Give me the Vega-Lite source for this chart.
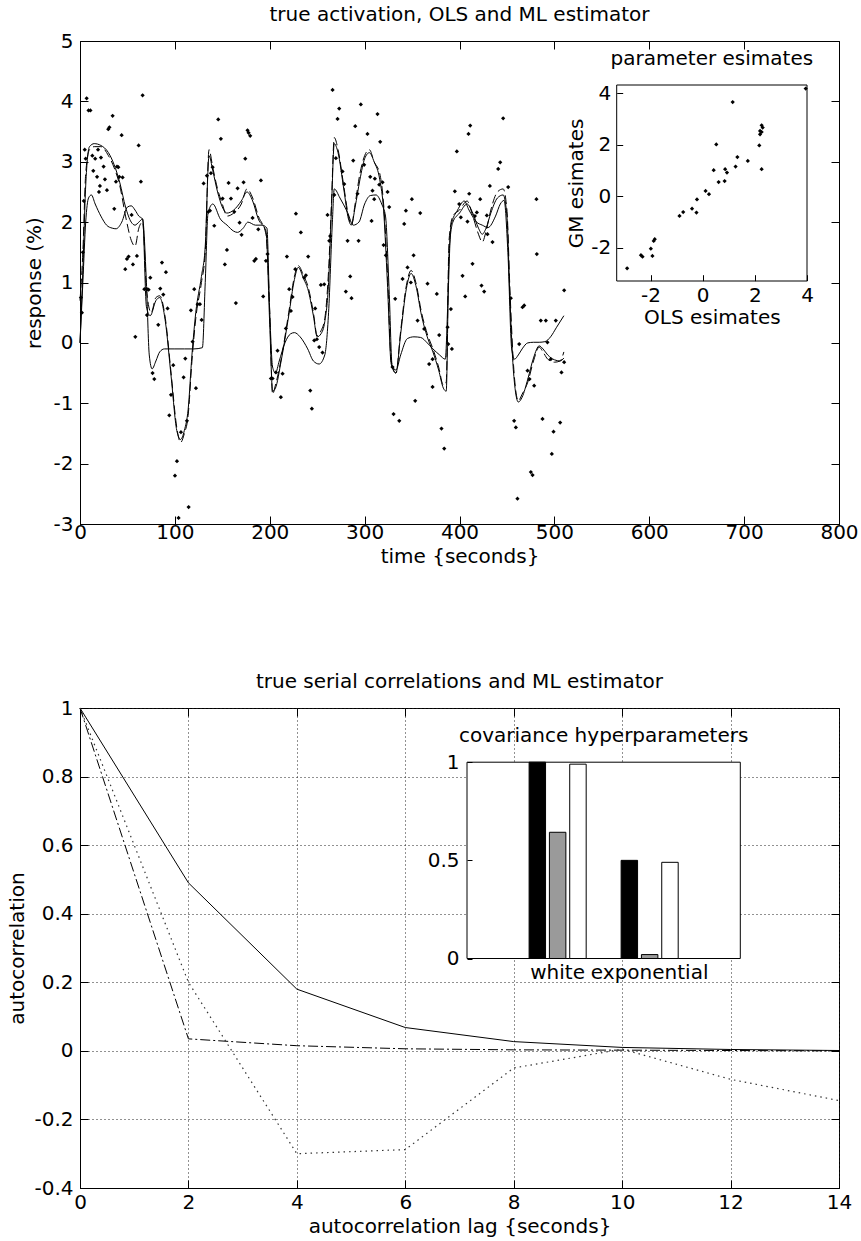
{
  "$schema": "https://vega.github.io/schema/vega-lite/v6.json",
  "padding": {"left": 7, "top": 4, "right": 4, "bottom": 2},
  "spacing": 104,
  "config": {
    "font": "DejaVu Sans",
    "view": {"stroke": "black", "strokeWidth": 1},
    "title": {"fontSize": 20, "fontWeight": "normal", "color": "black", "font": "DejaVu Sans", "offset": 6},
    "axis": {"labelFontSize": 20, "titleFontSize": 20, "labelColor": "black", "titleColor": "black", "titleFontWeight": "normal", "labelFont": "DejaVu Sans", "titleFont": "DejaVu Sans", "domainColor": "black", "tickColor": "black", "grid": false, "tickSize": -8, "labelPadding": 15, "labelFlush": false, "labelOverlap": false, "titlePadding": 6}
  },
  "datasets": {
    "L1": [
      {"t":0,"v":0.7,"s":"ML"},{"t":3,"v":1.5,"s":"ML"},{"t":6,"v":2.8,"s":"ML"},{"t":10,"v":3.2,"s":"ML"},{"t":15,"v":3.25,"s":"ML"},{"t":22,"v":3.25,"s":"ML"},{"t":30,"v":3.1,"s":"ML"},{"t":36,"v":2.9,"s":"ML"},{"t":42,"v":2.6,"s":"ML"},{"t":48,"v":2.1,"s":"ML"},{"t":54,"v":1.7,"s":"ML"},{"t":58,"v":1.6,"s":"ML"},{"t":62,"v":1.9,"s":"ML"},{"t":66,"v":2.0,"s":"ML"},{"t":70,"v":0.9,"s":"ML"},{"t":75,"v":0.5,"s":"ML"},{"t":80,"v":0.75,"s":"ML"},{"t":84,"v":0.78,"s":"ML"},{"t":90,"v":0.4,"s":"ML"},{"t":96,"v":-0.5,"s":"ML"},{"t":102,"v":-1.4,"s":"ML"},{"t":106,"v":-1.65,"s":"ML"},{"t":110,"v":-1.5,"s":"ML"},{"t":114,"v":-1.2,"s":"ML"},{"t":118,"v":-0.3,"s":"ML"},{"t":122,"v":0.4,"s":"ML"},{"t":128,"v":1.0,"s":"ML"},{"t":132,"v":1.5,"s":"ML"},{"t":136,"v":3.2,"s":"ML"},{"t":140,"v":2.9,"s":"ML"},{"t":145,"v":2.55,"s":"ML"},{"t":150,"v":2.3,"s":"ML"},{"t":155,"v":2.1,"s":"ML"},{"t":162,"v":2.15,"s":"ML"},{"t":170,"v":2.3,"s":"ML"},{"t":176,"v":2.55,"s":"ML"},{"t":182,"v":2.4,"s":"ML"},{"t":188,"v":2.1,"s":"ML"},{"t":196,"v":1.8,"s":"ML"},{"t":200,"v":0.5,"s":"ML"},{"t":203,"v":-0.85,"s":"ML"},{"t":206,"v":-0.7,"s":"ML"},{"t":212,"v":-0.27,"s":"ML"},{"t":220,"v":0.5,"s":"ML"},{"t":226,"v":1.1,"s":"ML"},{"t":230,"v":1.28,"s":"ML"},{"t":236,"v":1.1,"s":"ML"},{"t":240,"v":0.95,"s":"ML"},{"t":246,"v":0.5,"s":"ML"},{"t":250,"v":0.12,"s":"ML"},{"t":254,"v":0.2,"s":"ML"},{"t":258,"v":0.4,"s":"ML"},{"t":262,"v":1.2,"s":"ML"},{"t":265,"v":2.3,"s":"ML"},{"t":268,"v":3.4,"s":"ML"},{"t":272,"v":3.2,"s":"ML"},{"t":278,"v":2.6,"s":"ML"},{"t":283,"v":2.1,"s":"ML"},{"t":286,"v":1.95,"s":"ML"},{"t":290,"v":2.3,"s":"ML"},{"t":295,"v":2.8,"s":"ML"},{"t":300,"v":3.1,"s":"ML"},{"t":305,"v":3.2,"s":"ML"},{"t":310,"v":3.0,"s":"ML"},{"t":316,"v":2.8,"s":"ML"},{"t":320,"v":2.3,"s":"ML"},{"t":324,"v":1.2,"s":"ML"},{"t":328,"v":-0.3,"s":"ML"},{"t":333,"v":-0.5,"s":"ML"},{"t":338,"v":0.2,"s":"ML"},{"t":344,"v":0.95,"s":"ML"},{"t":349,"v":1.2,"s":"ML"},{"t":354,"v":1.0,"s":"ML"},{"t":360,"v":0.5,"s":"ML"},{"t":366,"v":0.15,"s":"ML"},{"t":372,"v":-0.1,"s":"ML"},{"t":378,"v":-0.4,"s":"ML"},{"t":383,"v":-0.7,"s":"ML"},{"t":386,"v":-0.65,"s":"ML"},{"t":389,"v":1.7,"s":"ML"},{"t":393,"v":2.1,"s":"ML"},{"t":400,"v":2.2,"s":"ML"},{"t":408,"v":2.35,"s":"ML"},{"t":414,"v":2.1,"s":"ML"},{"t":420,"v":1.8,"s":"ML"},{"t":424,"v":1.67,"s":"ML"},{"t":428,"v":1.85,"s":"ML"},{"t":433,"v":2.2,"s":"ML"},{"t":440,"v":2.5,"s":"ML"},{"t":446,"v":2.55,"s":"ML"},{"t":450,"v":2.2,"s":"ML"},{"t":453,"v":0.95,"s":"ML"},{"t":457,"v":-0.38,"s":"ML"},{"t":462,"v":-0.96,"s":"ML"},{"t":466,"v":-0.85,"s":"ML"},{"t":472,"v":-0.65,"s":"ML"},{"t":478,"v":-0.3,"s":"ML"},{"t":484,"v":-0.07,"s":"ML"},{"t":488,"v":-0.15,"s":"ML"},{"t":493,"v":-0.27,"s":"ML"},{"t":500,"v":-0.32,"s":"ML"},{"t":506,"v":-0.3,"s":"ML"},{"t":510,"v":-0.15,"s":"ML"},
      {"t":0,"v":0.0,"s":"true"},{"t":3,"v":1.2,"s":"true"},{"t":6,"v":2.6,"s":"true"},{"t":10,"v":3.25,"s":"true"},{"t":15,"v":3.3,"s":"true"},{"t":22,"v":3.27,"s":"true"},{"t":30,"v":3.15,"s":"true"},{"t":36,"v":2.95,"s":"true"},{"t":42,"v":2.65,"s":"true"},{"t":48,"v":2.25,"s":"true"},{"t":54,"v":2.0,"s":"true"},{"t":58,"v":1.95,"s":"true"},{"t":62,"v":2.0,"s":"true"},{"t":66,"v":2.05,"s":"true"},{"t":70,"v":0.6,"s":"true"},{"t":74,"v":0.45,"s":"true"},{"t":80,"v":0.7,"s":"true"},{"t":84,"v":0.75,"s":"true"},{"t":90,"v":0.35,"s":"true"},{"t":96,"v":-0.55,"s":"true"},{"t":102,"v":-1.45,"s":"true"},{"t":106,"v":-1.6,"s":"true"},{"t":110,"v":-1.45,"s":"true"},{"t":114,"v":-1.1,"s":"true"},{"t":118,"v":-0.2,"s":"true"},{"t":122,"v":0.5,"s":"true"},{"t":128,"v":1.1,"s":"true"},{"t":132,"v":1.6,"s":"true"},{"t":136,"v":3.1,"s":"true"},{"t":140,"v":2.85,"s":"true"},{"t":145,"v":2.5,"s":"true"},{"t":150,"v":2.25,"s":"true"},{"t":155,"v":2.15,"s":"true"},{"t":162,"v":2.2,"s":"true"},{"t":170,"v":2.35,"s":"true"},{"t":176,"v":2.5,"s":"true"},{"t":182,"v":2.35,"s":"true"},{"t":188,"v":2.05,"s":"true"},{"t":196,"v":1.85,"s":"true"},{"t":200,"v":0.3,"s":"true"},{"t":203,"v":-0.8,"s":"true"},{"t":206,"v":-0.75,"s":"true"},{"t":212,"v":-0.3,"s":"true"},{"t":220,"v":0.45,"s":"true"},{"t":226,"v":1.05,"s":"true"},{"t":230,"v":1.25,"s":"true"},{"t":236,"v":1.05,"s":"true"},{"t":240,"v":0.9,"s":"true"},{"t":246,"v":0.45,"s":"true"},{"t":250,"v":0.1,"s":"true"},{"t":254,"v":0.15,"s":"true"},{"t":258,"v":0.35,"s":"true"},{"t":262,"v":1.0,"s":"true"},{"t":265,"v":2.2,"s":"true"},{"t":268,"v":3.3,"s":"true"},{"t":272,"v":3.15,"s":"true"},{"t":278,"v":2.55,"s":"true"},{"t":283,"v":2.05,"s":"true"},{"t":286,"v":1.95,"s":"true"},{"t":290,"v":2.25,"s":"true"},{"t":295,"v":2.7,"s":"true"},{"t":300,"v":3.05,"s":"true"},{"t":305,"v":3.15,"s":"true"},{"t":310,"v":3.0,"s":"true"},{"t":316,"v":2.7,"s":"true"},{"t":320,"v":2.2,"s":"true"},{"t":324,"v":1.0,"s":"true"},{"t":328,"v":-0.35,"s":"true"},{"t":333,"v":-0.5,"s":"true"},{"t":338,"v":0.15,"s":"true"},{"t":344,"v":0.9,"s":"true"},{"t":349,"v":1.15,"s":"true"},{"t":354,"v":0.95,"s":"true"},{"t":360,"v":0.45,"s":"true"},{"t":366,"v":0.1,"s":"true"},{"t":372,"v":-0.15,"s":"true"},{"t":378,"v":-0.45,"s":"true"},{"t":383,"v":-0.75,"s":"true"},{"t":386,"v":-0.8,"s":"true"},{"t":389,"v":1.5,"s":"true"},{"t":393,"v":2.0,"s":"true"},{"t":400,"v":2.15,"s":"true"},{"t":408,"v":2.3,"s":"true"},{"t":414,"v":2.15,"s":"true"},{"t":420,"v":1.9,"s":"true"},{"t":424,"v":1.8,"s":"true"},{"t":428,"v":1.9,"s":"true"},{"t":433,"v":2.15,"s":"true"},{"t":440,"v":2.4,"s":"true"},{"t":446,"v":2.45,"s":"true"},{"t":450,"v":2.1,"s":"true"},{"t":453,"v":0.8,"s":"true"},{"t":457,"v":-0.5,"s":"true"},{"t":462,"v":-0.98,"s":"true"},{"t":466,"v":-0.9,"s":"true"},{"t":472,"v":-0.6,"s":"true"},{"t":478,"v":-0.25,"s":"true"},{"t":484,"v":-0.05,"s":"true"},{"t":488,"v":-0.1,"s":"true"},{"t":493,"v":-0.2,"s":"true"},{"t":500,"v":-0.28,"s":"true"},{"t":506,"v":-0.3,"s":"true"},{"t":510,"v":-0.25,"s":"true"},
      {"t":0,"v":0.0,"s":"OLS"},{"t":3,"v":1.0,"s":"OLS"},{"t":6,"v":2.0,"s":"OLS"},{"t":9,"v":2.4,"s":"OLS"},{"t":12,"v":2.45,"s":"OLS"},{"t":16,"v":2.3,"s":"OLS"},{"t":22,"v":2.1,"s":"OLS"},{"t":28,"v":1.95,"s":"OLS"},{"t":34,"v":1.9,"s":"OLS"},{"t":38,"v":1.89,"s":"OLS"},{"t":44,"v":2.0,"s":"OLS"},{"t":50,"v":2.25,"s":"OLS"},{"t":54,"v":2.27,"s":"OLS"},{"t":58,"v":2.2,"s":"OLS"},{"t":62,"v":2.1,"s":"OLS"},{"t":66,"v":2.05,"s":"OLS"},{"t":70,"v":1.0,"s":"OLS"},{"t":73,"v":-0.2,"s":"OLS"},{"t":76,"v":-0.43,"s":"OLS"},{"t":80,"v":-0.3,"s":"OLS"},{"t":84,"v":-0.15,"s":"OLS"},{"t":89,"v":-0.1,"s":"OLS"},{"t":100,"v":-0.1,"s":"OLS"},{"t":110,"v":-0.1,"s":"OLS"},{"t":120,"v":-0.1,"s":"OLS"},{"t":129,"v":-0.08,"s":"OLS"},{"t":132,"v":1.0,"s":"OLS"},{"t":135,"v":2.16,"s":"OLS"},{"t":140,"v":2.3,"s":"OLS"},{"t":148,"v":2.05,"s":"OLS"},{"t":155,"v":1.95,"s":"OLS"},{"t":162,"v":1.85,"s":"OLS"},{"t":166,"v":1.83,"s":"OLS"},{"t":172,"v":1.9,"s":"OLS"},{"t":177,"v":2.0,"s":"OLS"},{"t":185,"v":1.95,"s":"OLS"},{"t":192,"v":1.95,"s":"OLS"},{"t":197,"v":1.9,"s":"OLS"},{"t":200,"v":0.5,"s":"OLS"},{"t":203,"v":-0.4,"s":"OLS"},{"t":206,"v":-0.5,"s":"OLS"},{"t":210,"v":-0.3,"s":"OLS"},{"t":216,"v":0.0,"s":"OLS"},{"t":222,"v":0.15,"s":"OLS"},{"t":226,"v":0.17,"s":"OLS"},{"t":232,"v":0.1,"s":"OLS"},{"t":240,"v":-0.1,"s":"OLS"},{"t":246,"v":-0.3,"s":"OLS"},{"t":252,"v":-0.35,"s":"OLS"},{"t":258,"v":-0.2,"s":"OLS"},{"t":262,"v":0.5,"s":"OLS"},{"t":266,"v":2.0,"s":"OLS"},{"t":268,"v":2.55,"s":"OLS"},{"t":274,"v":2.4,"s":"OLS"},{"t":282,"v":2.16,"s":"OLS"},{"t":288,"v":1.95,"s":"OLS"},{"t":294,"v":2.0,"s":"OLS"},{"t":300,"v":2.3,"s":"OLS"},{"t":306,"v":2.44,"s":"OLS"},{"t":312,"v":2.45,"s":"OLS"},{"t":318,"v":2.3,"s":"OLS"},{"t":322,"v":2.1,"s":"OLS"},{"t":326,"v":0.8,"s":"OLS"},{"t":329,"v":-0.38,"s":"OLS"},{"t":333,"v":-0.45,"s":"OLS"},{"t":338,"v":-0.2,"s":"OLS"},{"t":345,"v":0.07,"s":"OLS"},{"t":352,"v":0.1,"s":"OLS"},{"t":359,"v":0.09,"s":"OLS"},{"t":366,"v":0.0,"s":"OLS"},{"t":372,"v":-0.1,"s":"OLS"},{"t":379,"v":-0.2,"s":"OLS"},{"t":385,"v":-0.27,"s":"OLS"},{"t":388,"v":0.8,"s":"OLS"},{"t":391,"v":1.94,"s":"OLS"},{"t":398,"v":2.2,"s":"OLS"},{"t":405,"v":2.35,"s":"OLS"},{"t":410,"v":2.2,"s":"OLS"},{"t":418,"v":2.0,"s":"OLS"},{"t":424,"v":1.95,"s":"OLS"},{"t":430,"v":1.91,"s":"OLS"},{"t":438,"v":2.1,"s":"OLS"},{"t":443,"v":2.3,"s":"OLS"},{"t":447,"v":2.36,"s":"OLS"},{"t":451,"v":1.5,"s":"OLS"},{"t":455,"v":-0.1,"s":"OLS"},{"t":458,"v":-0.27,"s":"OLS"},{"t":462,"v":-0.2,"s":"OLS"},{"t":466,"v":-0.1,"s":"OLS"},{"t":472,"v":0.0,"s":"OLS"},{"t":478,"v":0.01,"s":"OLS"},{"t":484,"v":0.01,"s":"OLS"},{"t":490,"v":0.02,"s":"OLS"},{"t":496,"v":0.1,"s":"OLS"},{"t":502,"v":0.25,"s":"OLS"},{"t":510,"v":0.45,"s":"OLS"}
    ],
    "P1": [
      {"t":1,"v":0.75},{"t":2,"v":0.5},{"t":3,"v":1.5},{"t":4,"v":2.35},{"t":5,"v":3.2},{"t":6,"v":3.05},{"t":7,"v":4.05},{"t":9,"v":3.85},{"t":11,"v":3.85},{"t":13,"v":3.1},{"t":14,"v":2.85},{"t":16,"v":3.05},{"t":18,"v":2.75},{"t":19,"v":3.2},{"t":20,"v":2.5},{"t":21,"v":2.6},
      {"t":66,"v":4.1},{"t":34.4,"v":3.76},{"t":31,"v":3.57},{"t":29.8,"v":3.54},{"t":43.9,"v":3.44},{"t":61.8,"v":3.27},{"t":22.1,"v":3.07},{"t":24.9,"v":2.92},{"t":39,"v":2.92},{"t":40.4,"v":2.91},{"t":26.3,"v":2.71},{"t":28.4,"v":2.53},{"t":41.4,"v":2.75},{"t":44.9,"v":2.74},{"t":37.9,"v":2.67},{"t":64.2,"v":2.67},{"t":36.1,"v":2.22},{"t":54.4,"v":2.12},{"t":51.2,"v":1.43},{"t":49.5,"v":1.39},{"t":60,"v":1.44},{"t":55.8,"v":1.3},{"t":47.7,"v":1.22},{"t":58.3,"v":0.1},{"t":67.8,"v":0.89},{"t":70.6,"v":0.89},{"t":72.3,"v":0.88},{"t":74.1,"v":1.08},{"t":70.6,"v":0.46},{"t":86.4,"v":1.33},{"t":90.6,"v":1.17},{"t":84.6,"v":0.9},{"t":87.8,"v":0.8},{"t":82.5,"v":0.3},{"t":92.3,"v":0.57},{"t":76.5,"v":-0.5},{"t":78.3,"v":-0.6},{"t":98.3,"v":-0.37},{"t":109.2,"v":-0.57},{"t":111,"v":-0.26},{"t":95.9,"v":-0.86},{"t":94.1,"v":-1.2},{"t":122.2,"v":-0.75},{"t":106.4,"v":-1.48},{"t":112.7,"v":-1.29},{"t":102.2,"v":-1.96},{"t":100.1,"v":-2.2},{"t":114.5,"v":-2.72},{"t":103.9,"v":-2.9},{"t":116.9,"v":0.54},{"t":120.4,"v":0.89},{"t":124,"v":0.64},{"t":126.4,"v":0.64},{"t":128.2,"v":0.38},{"t":118.7,"v":0.02},{"t":130.3,"v":2.64},{"t":133.8,"v":2.77},{"t":138,"v":2.81},{"t":139.8,"v":2.91},{"t":145.7,"v":3.7},{"t":148.5,"v":3.38},{"t":141.5,"v":1.94},{"t":135.2,"v":2.17},{"t":137,"v":2.19},{"t":154.9,"v":1.54},{"t":152.7,"v":1.3},{"t":150.3,"v":2.39},{"t":156.6,"v":2.65},{"t":159.1,"v":2.39},{"t":162.6,"v":2.17},{"t":166.1,"v":2.56},{"t":168.2,"v":1.99},{"t":170.3,"v":1.79},{"t":172.4,"v":2.66},{"t":174.2,"v":3.05},{"t":176.6,"v":3.52},{"t":177.7,"v":3.48},{"t":179.4,"v":3.43},{"t":181.9,"v":2.07},{"t":183.7,"v":1.36},{"t":185.4,"v":1.39},{"t":190.7,"v":2.69},{"t":187.9,"v":1.88},{"t":193.1,"v":0.77},{"t":164.3,"v":0.66},{"t":196,"v":1.36},{"t":197.7,"v":1.47},{"t":201.2,"v":-0.59},{"t":203,"v":-0.59},{"t":206.5,"v":-0.49},{"t":208.2,"v":-0.13},{"t":211.7,"v":-0.9},{"t":213.5,"v":-0.51},{"t":217,"v":0.24},{"t":220.5,"v":0.89},{"t":224,"v":0.76},{"t":222.3,"v":0.53},{"t":218.1,"v":1.43},{"t":226.9,"v":1.22},{"t":227.6,"v":2.14},{"t":232.8,"v":1.83},{"t":236.3,"v":1.08},{"t":238.1,"v":1.12},{"t":240.5,"v":1.43},{"t":242.7,"v":-0.79},{"t":244.4,"v":-1.09},{"t":247.9,"v":0.57},{"t":246.9,"v":0.04},{"t":249.7,"v":0.06},{"t":252.1,"v":-0.07},{"t":255.6,"v":-0.16},{"t":253.9,"v":0.96},{"t":257.4,"v":0.97},{"t":262.7,"v":1.69},{"t":263.7,"v":1.77},{"t":260.9,"v":2.12},{"t":266.2,"v":4.19},{"t":273.2,"v":3.88},{"t":271.5,"v":3.71},{"t":269.7,"v":3.06},{"t":276.7,"v":2.84},{"t":278.5,"v":2.63},{"t":268,"v":2.45},{"t":282,"v":1.69},{"t":284.8,"v":1.1},{"t":280.2,"v":0.85},{"t":286.2,"v":0.74},{"t":288,"v":3.02},{"t":290.1,"v":3.59},{"t":292.5,"v":2.47},{"t":293.6,"v":1.69},{"t":296,"v":3.95},{"t":299.5,"v":2.95},{"t":303,"v":3.46},{"t":305.9,"v":2.75},{"t":307.3,"v":2.02},{"t":308.3,"v":2.52},{"t":310.1,"v":2.38},{"t":313.6,"v":3.79},{"t":315.4,"v":2.62},
      {"t":316.4,"v":3.33},{"t":310.8,"v":2.72},{"t":318.9,"v":2.66},{"t":324.2,"v":2.5},{"t":325.9,"v":2.25},{"t":320,"v":1.62},{"t":322.4,"v":1.45},{"t":329.4,"v":-0.4},{"t":332.2,"v":0.73},{"t":330.5,"v":-1.18},{"t":336.5,"v":-1.29},{"t":340,"v":1.06},{"t":345.2,"v":1.25},{"t":341.7,"v":1.97},{"t":348.7,"v":1.0},{"t":343.5,"v":2.19},{"t":349.8,"v":2.38},{"t":351.6,"v":1.45},{"t":358.6,"v":2.15},{"t":353.3,"v":-0.96},{"t":355.8,"v":0.37},{"t":362.8,"v":0.23},{"t":366.3,"v":0.98},{"t":368,"v":-0.35},{"t":371.6,"v":-0.27},{"t":371.6,"v":-0.73},{"t":376.1,"v":0.81},{"t":378.6,"v":0.13},{"t":381,"v":-1.42},{"t":383.9,"v":-1.75},{"t":387.4,"v":0.26},{"t":388.1,"v":-0.02},{"t":390.9,"v":0.56},{"t":392,"v":-0.1},{"t":395.1,"v":2.51},{"t":397.2,"v":3.17},{"t":399.7,"v":2.3},{"t":401.4,"v":2.08},{"t":403.2,"v":1.11},{"t":406,"v":0.77},{"t":408.4,"v":2.01},{"t":409.5,"v":3.46},{"t":411.3,"v":3.6},{"t":410.2,"v":2.47},{"t":413.7,"v":1.31},{"t":416.2,"v":2.1},{"t":418.3,"v":2.16},{"t":421.8,"v":2.38},{"t":423.2,"v":0.95},{"t":426,"v":0.85},{"t":428.8,"v":2.11},{"t":429.5,"v":1.8},{"t":432,"v":2.6},{"t":434.8,"v":1.67},{"t":440.8,"v":2.88},{"t":442.9,"v":2.99},{"t":446,"v":3.72},{"t":451.3,"v":2.58},{"t":454.1,"v":0.74},{"t":457.6,"v":-1.29},{"t":459.4,"v":-1.4},{"t":461.1,"v":-2.58},{"t":462.9,"v":-0.02},{"t":466.4,"v":0.59},{"t":468.2,"v":0.62},{"t":471.7,"v":-0.46},{"t":473.8,"v":-0.6},{"t":475.2,"v":-2.14},{"t":477,"v":-2.19},{"t":478.7,"v":-0.71},{"t":481.1,"v":2.38},{"t":481.5,"v":1.47},{"t":487.5,"v":-1.26},{"t":485.7,"v":0.37},{"t":491,"v":0.37},{"t":492.7,"v":0.01},{"t":496.2,"v":-0.27},{"t":497.3,"v":-1.84},{"t":499.1,"v":-1.47},{"t":501.5,"v":0.37},{"t":506.1,"v":-1.32},{"t":507.5,"v":-0.49},{"t":510.3,"v":0.87},{"t":510.3,"v":-0.32}
    ],
    "I1": [
      {"ols":1.15,"gm":3.65},{"ols":2.26,"gm":2.75},{"ols":2.2,"gm":2.53},{"ols":2.2,"gm":2.4},{"ols":2.26,"gm":2.49},{"ols":2.3,"gm":2.66},{"ols":2.17,"gm":1.97},{"ols":2.26,"gm":1.05},{"ols":0.52,"gm":2.01},{"ols":1.33,"gm":1.52},{"ols":1.73,"gm":1.37},{"ols":1.26,"gm":1.15},{"ols":0.42,"gm":1.01},{"ols":0.86,"gm":1.05},{"ols":0.93,"gm":0.92},{"ols":0.61,"gm":0.55},{"ols":0.84,"gm":0.59},{"ols":0.11,"gm":0.21},{"ols":0.24,"gm":0.08},{"ols":-0.22,"gm":-0.12},{"ols":-0.41,"gm":-0.48},{"ols":-0.24,"gm":-0.63},{"ols":-0.89,"gm":-0.76},{"ols":-0.75,"gm":-0.61},{"ols":-1.84,"gm":-1.66},{"ols":-1.88,"gm":-1.73},{"ols":-1.99,"gm":-2.03},{"ols":-1.93,"gm":-2.31},{"ols":-2.37,"gm":-2.28},{"ols":-2.31,"gm":-2.34},{"ols":-2.9,"gm":-2.79},{"ols":3.95,"gm":4.17}
    ],
    "L2": [
      {"lag":0,"r":1,"s":"true"},{"lag":2,"r":0.49,"s":"true"},{"lag":4,"r":0.18,"s":"true"},{"lag":6,"r":0.068,"s":"true"},{"lag":8,"r":0.027,"s":"true"},{"lag":10,"r":0.01,"s":"true"},{"lag":12,"r":0.004,"s":"true"},{"lag":14,"r":0.001,"s":"true"},
      {"lag":0,"r":1,"s":"ML"},{"lag":2,"r":0.035,"s":"ML"},{"lag":4,"r":0.015,"s":"ML"},{"lag":6,"r":0.006,"s":"ML"},{"lag":8,"r":0.003,"s":"ML"},{"lag":10,"r":0.002,"s":"ML"},{"lag":12,"r":0.001,"s":"ML"},{"lag":14,"r":0,"s":"ML"},
      {"lag":0,"r":1,"s":"OLS"},{"lag":2,"r":0.2,"s":"OLS"},{"lag":4,"r":-0.3,"s":"OLS"},{"lag":6,"r":-0.288,"s":"OLS"},{"lag":8,"r":-0.05,"s":"OLS"},{"lag":10,"r":0.005,"s":"OLS"},{"lag":12,"r":-0.083,"s":"OLS"},{"lag":14,"r":-0.145,"s":"OLS"}
    ],
    "B2": [
      {"g":"white","s":"a","v":1.0},{"g":"white","s":"b","v":0.643},{"g":"white","s":"c","v":0.99},
      {"g":"exponential","s":"a","v":0.5},{"g":"exponential","s":"b","v":0.02},{"g":"exponential","s":"c","v":0.49}
    ]
  },
  "vconcat": [
    {
      "width": 759,
      "height": 483,
      "title": {"text": "true activation, OLS and ML estimator"},
      "layer": [
        {
          "data": {"name": "L1"},
          "encoding": {
            "x": {"field": "t", "type": "quantitative", "scale": {"domain": [0, 800], "nice": false, "zero": false},
                  "axis": {"orient": "bottom", "title": "time {seconds}", "values": [0,100,200,300,400,500,600,700,800], "format": "d", "labelPadding": 6, "titlePadding": 4}},
            "y": {"field": "v", "type": "quantitative", "scale": {"domain": [-3, 5], "nice": false, "zero": false},
                  "axis": {"orient": "left", "title": "response (%)", "values": [-3,-2,-1,0,1,2,3,4,5], "format": "d", "titlePadding": 9, "labelExpr": "replace(datum.label, '\u2212', '-')"}}
          },
          "layer": [
            {"transform": [{"filter": "datum.s == 'true'"}], "mark": {"type": "line", "color": "black", "strokeWidth": 1, "interpolate": "monotone"}},
            {"transform": [{"filter": "datum.s == 'OLS'"}], "mark": {"type": "line", "color": "black", "strokeWidth": 1, "interpolate": "monotone"}},
            {"transform": [{"filter": "datum.s == 'ML'"}], "mark": {"type": "line", "color": "black", "strokeWidth": 1, "interpolate": "monotone", "strokeDash": [9, 4]}}
          ]
        },
        {
          "data": {"name": "P1"},
          "mark": {"type": "point", "shape": "diamond", "filled": true, "color": "black", "size": 18, "opacity": 1},
          "encoding": {
            "x": {"field": "t", "type": "quantitative", "scale": {"domain": [0, 800], "nice": false, "zero": false},
                  "axis": {"orient": "top", "title": null, "labels": false, "domain": false, "values": [0,100,200,300,400,500,600,700,800]}},
            "y": {"field": "v", "type": "quantitative", "scale": {"domain": [-3, 5], "nice": false, "zero": false},
                  "axis": {"orient": "right", "title": null, "labels": false, "domain": false, "values": [-3,-2,-1,0,1,2,3,4,5]}}
          }
        },
        {
          "layer": [
            {
              "data": {"values": [{}]},
              "mark": {"type": "rect", "fill": "white", "stroke": "black", "strokeWidth": 1},
              "encoding": {
                "x": {"datum": -3.3, "type": "quantitative", "scale": {"domain": [-3.3, 4], "range": [536.7, 727], "nice": false, "zero": false},
                      "axis": {"orient": "bottom", "offset": -243.3, "values": [-2, 0, 2, 4], "format": "d", "title": "OLS esimates", "titlePadding": 2, "domain": false, "tickSize": -6, "labelPadding": 11, "zindex": 1, "labelExpr": "replace(datum.label, '\u2212', '-')"}},
                "x2": {"datum": 4},
                "y": {"datum": -3.28, "type": "quantitative", "scale": {"domain": [-3.28, 4.31], "range": [240, 44], "nice": false, "zero": false},
                      "axis": {"orient": "left", "offset": -536.7, "values": [-2, 0, 2, 4], "format": "d", "title": "GM esimates", "titlePadding": 4, "domain": false, "tickSize": -6, "labelPadding": 12, "zindex": 1, "labelExpr": "replace(datum.label, '\u2212', '-')"}},
                "y2": {"datum": 4.31}
              }
            },
            {
              "data": {"name": "I1"},
              "mark": {"type": "point", "shape": "diamond", "filled": true, "color": "black", "size": 18, "opacity": 1},
              "encoding": {
                "x": {"field": "ols", "type": "quantitative", "scale": {"domain": [-3.3, 4], "range": [536.7, 727], "nice": false, "zero": false},
                      "axis": {"orient": "bottom", "offset": -243.3, "values": [-2, 0, 2, 4], "format": "d", "title": "OLS esimates", "titlePadding": 2, "domain": false, "tickSize": -6, "labelPadding": 11, "zindex": 1, "labelExpr": "replace(datum.label, '\u2212', '-')"}},
                "y": {"field": "gm", "type": "quantitative", "scale": {"domain": [-3.28, 4.31], "range": [240, 44], "nice": false, "zero": false},
                      "axis": {"orient": "left", "offset": -536.7, "values": [-2, 0, 2, 4], "format": "d", "title": "GM esimates", "titlePadding": 4, "domain": false, "tickSize": -6, "labelPadding": 12, "zindex": 1, "labelExpr": "replace(datum.label, '\u2212', '-')"}}
              }
            },
            {
              "data": {"values": [{}]},
              "mark": {"type": "text", "text": "parameter esimates", "fontSize": 20, "font": "DejaVu Sans", "dy": -20, "baseline": "alphabetic", "align": "center", "color": "black"},
              "encoding": {
                "x": {"datum": 0.35, "type": "quantitative", "scale": {"domain": [-3.3, 4], "range": [536.7, 727], "nice": false, "zero": false}},
                "y": {"datum": 4.31, "type": "quantitative", "scale": {"domain": [-3.28, 4.31], "range": [240, 44], "nice": false, "zero": false}}
              }
            }
          ]
        }
      ],
      "resolve": {"scale": {"x": "independent", "y": "independent"}}
    },
    {
      "width": 759,
      "height": 480,
      "title": {"text": "true serial correlations and ML estimator"},
      "layer": [
        {
          "data": {"name": "L2"},
          "encoding": {
            "x": {"field": "lag", "type": "quantitative", "scale": {"domain": [0, 14], "nice": false, "zero": false},
                  "axis": {"orient": "bottom", "title": "autocorrelation lag {seconds}", "values": [0,2,4,6,8,10,12,14], "format": "d", "grid": true, "gridDash": [1, 3], "gridColor": "#222", "labelPadding": 12, "titlePadding": 4}},
            "y": {"field": "r", "type": "quantitative", "scale": {"domain": [-0.4, 1], "nice": false, "zero": false},
                  "axis": {"orient": "left", "title": "autocorrelation", "values": [-0.4,-0.2,0,0.2,0.4,0.6,0.8,1], "format": "~g", "grid": true, "gridDash": [1, 3], "gridColor": "#222", "titlePadding": 6, "labelExpr": "replace(datum.label, '\u2212', '-')"}}
          },
          "layer": [
            {"transform": [{"filter": "datum.s == 'true'"}], "mark": {"type": "line", "color": "black", "strokeWidth": 1}},
            {"transform": [{"filter": "datum.s == 'ML'"}], "mark": {"type": "line", "color": "black", "strokeWidth": 1, "strokeDash": [10, 3, 2, 3]}},
            {"transform": [{"filter": "datum.s == 'OLS'"}], "mark": {"type": "line", "color": "#333", "strokeWidth": 1.2, "strokeDash": [1.5, 4]}}
          ]
        },
        {
          "data": {"name": "L2"},
          "mark": {"type": "point", "opacity": 0},
          "encoding": {
            "x": {"field": "lag", "type": "quantitative", "scale": {"domain": [0, 14], "nice": false, "zero": false},
                  "axis": {"orient": "top", "title": null, "labels": false, "domain": false, "values": [0,2,4,6,8,10,12,14]}},
            "y": {"field": "r", "type": "quantitative", "scale": {"domain": [-0.4, 1], "nice": false, "zero": false},
                  "axis": {"orient": "right", "title": null, "labels": false, "domain": false, "values": [-0.4,-0.2,0,0.2,0.4,0.6,0.8,1]}}
          }
        },
        {
          "layer": [
            {
              "data": {"values": [{}]},
              "mark": {"type": "rect", "fill": "white", "stroke": "black", "strokeWidth": 1},
              "encoding": {
                "x": {"datum": 0, "type": "quantitative", "scale": {"domain": [0, 1], "range": [387, 660.3], "nice": false, "zero": false}, "axis": null},
                "x2": {"datum": 1},
                "y": {"datum": 0, "type": "quantitative", "scale": {"domain": [0, 1], "range": [250.5, 54.2], "nice": false, "zero": false}, "axis": null},
                "y2": {"datum": 1}
              }
            },
            {
              "data": {"values": [{}]},
              "mark": {"type": "text", "text": "covariance hyperparameters", "fontSize": 20, "font": "DejaVu Sans", "dy": -20, "baseline": "alphabetic", "align": "center", "color": "black"},
              "encoding": {
                "x": {"datum": 0.5, "type": "quantitative", "scale": {"domain": [0, 1], "range": [387, 660.3], "nice": false, "zero": false}, "axis": null},
                "y": {"datum": 1, "type": "quantitative", "scale": {"domain": [0, 1], "range": [250.5, 54.2], "nice": false, "zero": false}, "axis": null}
              }
            }
          ]
        },
        {
          "data": {"name": "B2"},
          "mark": {"type": "bar", "stroke": "black", "strokeWidth": 1},
          "encoding": {
            "x": {"field": "g", "type": "nominal", "sort": ["white", "exponential"],
                  "scale": {"domain": ["white", "exponential"], "range": [387, 660.3], "paddingInner": 0, "paddingOuter": 0.485},
                  "axis": {"orient": "bottom", "offset": -229, "title": null, "ticks": false, "domain": false, "labelAngle": 0, "labelPadding": 3, "zindex": 1}},
            "xOffset": {"field": "s", "type": "nominal", "scale": {"domain": ["a", "b", "c"], "paddingInner": 0.19, "paddingOuter": 0.86}},
            "y": {"field": "v", "type": "quantitative", "scale": {"domain": [0, 1], "range": [250.5, 54.2], "nice": false, "zero": false},
                  "axis": {"orient": "left", "offset": -387, "title": null, "values": [0, 0.5, 1], "format": "~g", "domain": false, "tickSize": -5, "labelPadding": 13, "zindex": 1}},
            "color": {"field": "s", "type": "nominal", "scale": {"domain": ["a", "b", "c"], "range": ["black", "#9a9a9a", "white"]}, "legend": null}
          }
        }
      ],
      "resolve": {"scale": {"x": "independent", "y": "independent"}}
    }
  ]
}
